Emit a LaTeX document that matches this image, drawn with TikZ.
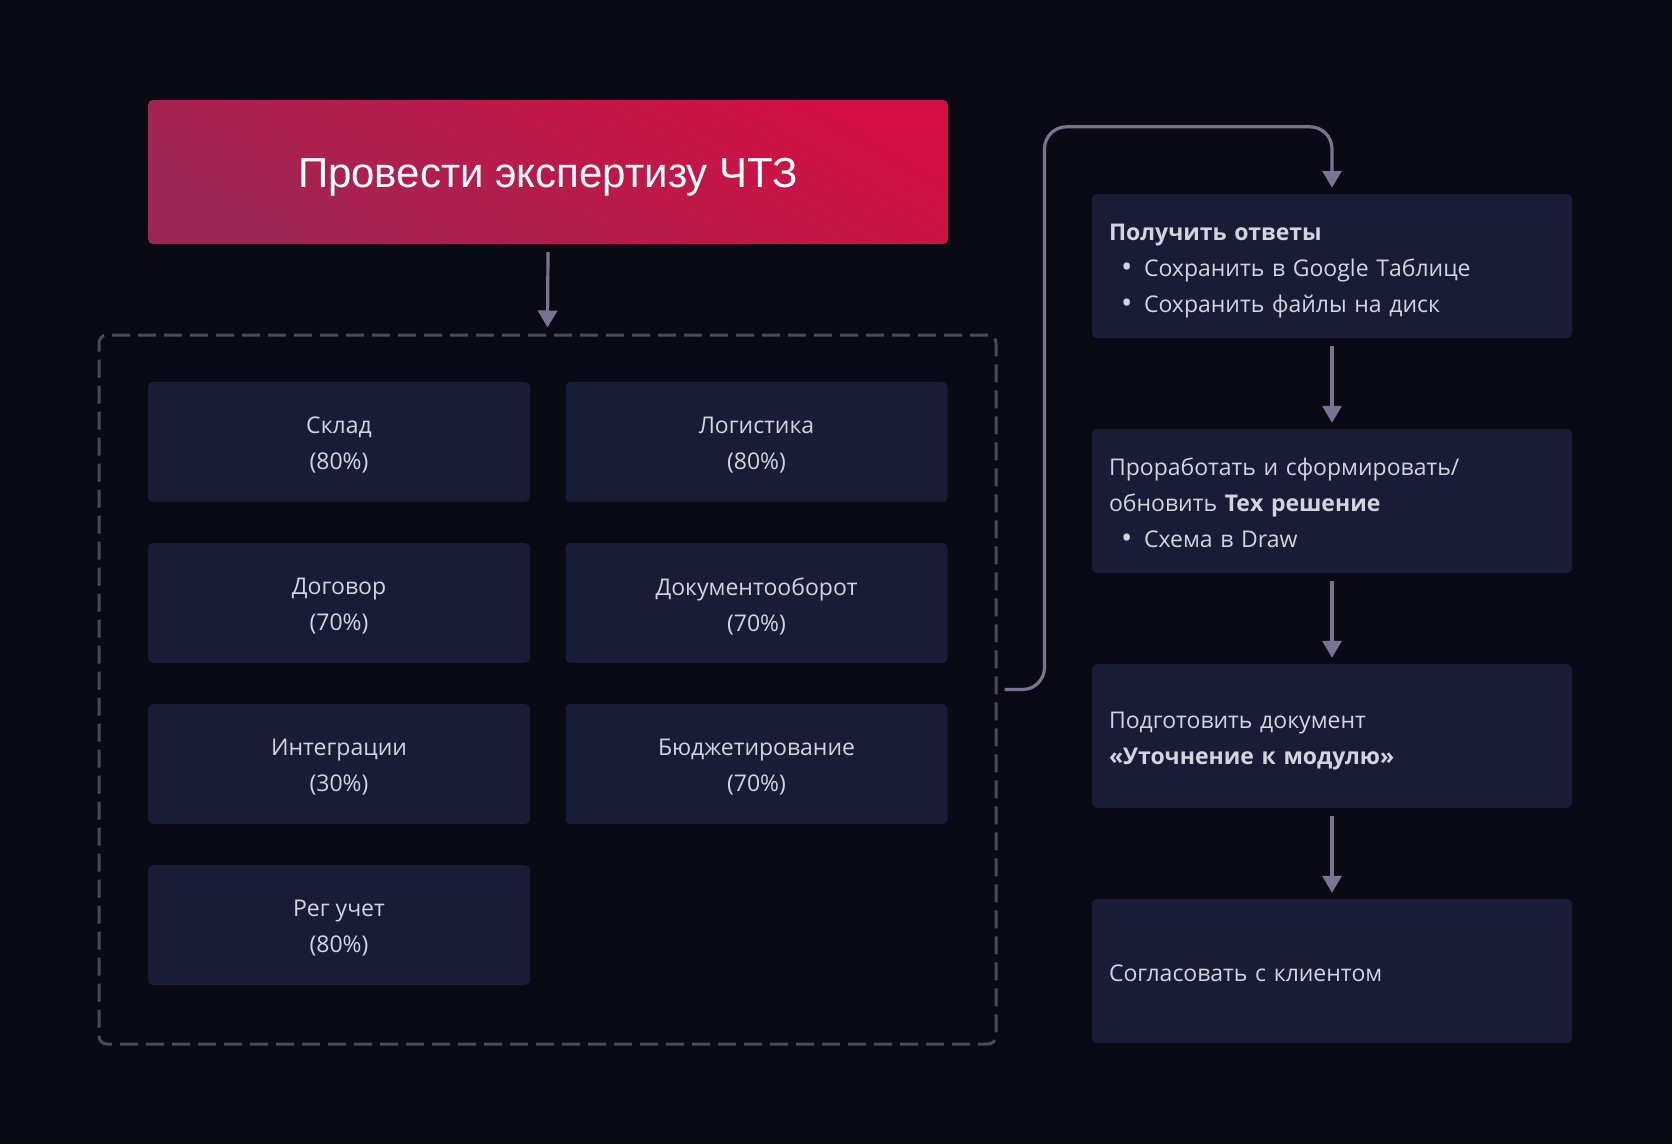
\documentclass[tikz,border=0pt]{standalone}
\usepackage{fontspec}
\setmainfont{Open Sans}
\newfontfamily\titlefont{Liberation Sans}
\usetikzlibrary{arrows.meta,calc}
\definecolor{bg}{RGB}{10,10,20}
\definecolor{boxfill}{RGB}{25,28,54}
\definecolor{txt}{RGB}{212,212,222}
\definecolor{arrowc}{RGB}{122,116,148}
\definecolor{dashc}{RGB}{75,74,92}
\definecolor{redA}{RGB}{158,38,84}
\definecolor{redB}{RGB}{210,16,66}
\tikzset{
  gridbox/.style={fill=boxfill, rounded corners=5pt, minimum width=382pt, minimum height=120pt, inner sep=0pt},
  gridtext/.style={align=center, text=txt, font=\fontsize{23}{36}\selectfont, inner sep=0pt},
  stepbox/.style={fill=boxfill, rounded corners=5pt, minimum width=480pt, minimum height=144pt, inner sep=0pt},
  steptext/.style={text width=446pt, inner sep=0pt, align=left, text=txt, font=\fontsize{23}{36}\selectfont},
  arr/.style={draw=arrowc, line width=3.2pt, -{Triangle[width=19pt,length=17pt]}},
}
\newcommand{\bul}[1]{\hspace*{12pt}\makebox[23pt][l]{\raisebox{-1.5pt}{\fontsize{30}{30}\selectfont•}}#1}
\begin{document}
\begin{tikzpicture}[x=1pt,y=-1pt]
\fill[bg] (0,0) rectangle (1672,1144);
\useasboundingbox (0,0) rectangle (1672,1144);

\node[rounded corners=5pt, shading=axis, top color=redA, bottom color=redB, shading angle=150,
  minimum width=800pt, minimum height=144pt, inner sep=0pt] (title) at (548,172) {};
\node[text=white, font=\titlefont\fontsize{42}{50}\selectfont, inner sep=0pt] (title-t)
  at ([yshift=-5pt]title.center) {Провести экспертизу ЧТЗ};

\node[draw=dashc, line width=3pt, dash pattern=on 18pt off 8pt, rounded corners=8pt,
  minimum width=897pt, minimum height=709pt, inner sep=0pt] (group) at (547.5,689.5) {};

\node[gridbox] (sklad) at (339,442) {};
\node[gridbox] (log) at (756.5,442) {};
\node[gridbox] (dog) at (339,603) {};
\node[gridbox] (doc) at (756.5,603) {};
\node[gridbox] (integ) at (339,764) {};
\node[gridbox] (budg) at (756.5,764) {};
\node[gridbox] (reg) at (339,925) {};
\node[gridtext] (sklad-t) at ([yshift=-3pt]sklad.center) {Склад\\(80\%)};
\node[gridtext] (log-t) at ([yshift=-3pt]log.center) {Логистика\\(80\%)};
\node[gridtext] (dog-t) at ([yshift=-3pt]dog.center) {Договор\\(70\%)};
\node[gridtext] (doc-t) at ([yshift=-3pt]doc.center) {Документооборот\\(70\%)};
\node[gridtext] (integ-t) at ([yshift=-3pt]integ.center) {Интеграции\\(30\%)};
\node[gridtext] (budg-t) at ([yshift=-3pt]budg.center) {Бюджетирование\\(70\%)};
\node[gridtext] (reg-t) at ([yshift=-3pt]reg.center) {Рег учет\\(80\%)};

\node[stepbox] (r1) at (1332,266) {};
\node[stepbox] (r2) at (1332,501) {};
\node[stepbox] (r3) at (1332,736) {};
\node[stepbox] (r4) at (1332,971) {};
\node[steptext] (r1-t) at ([yshift=-5pt]r1.center) {\textbf{Получить ответы}\\\bul{Сохранить в Google Таблице}\\\bul{Сохранить файлы на диск}};
\node[steptext] (r2-t) at ([yshift=-2pt]r2.center) {Проработать и сформировать/\\обновить \textbf{Тех решение}\\\bul{Схема в Draw}};
\node[steptext] (r3-t) at ([yshift=-5pt]r3.center) {Подготовить документ\\\textbf{«Уточнение к модулю»}};
\node[steptext] (r4-t) at ([yshift=-2pt]r4.center) {Согласовать с клиентом};

\draw[arr] ([yshift=-8pt]title.south) -- ([yshift=6pt]group.north);
\draw[arr] ([yshift=-8pt]r1.south) -- ([yshift=6pt]r2.north);
\draw[arr] ([yshift=-8pt]r2.south) -- ([yshift=6pt]r3.north);
\draw[arr] ([yshift=-8pt]r3.south) -- ([yshift=6pt]r4.north);

\coordinate (c0) at ([xshift=7pt]group.east);
\draw[arr, rounded corners=22pt] (c0) -- ++(40,0) |- ($(r1.north)+(0,-67)$) -- ([yshift=6pt]r1.north);
\end{tikzpicture}
\end{document}
